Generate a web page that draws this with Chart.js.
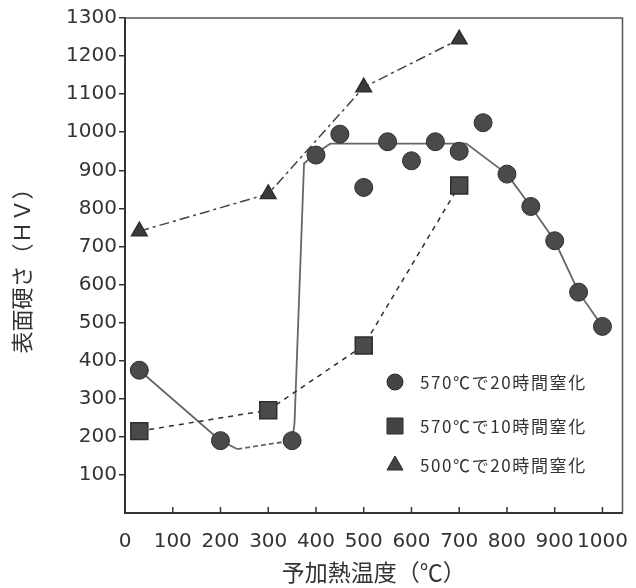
<!DOCTYPE html>
<html>
<head>
<meta charset="utf-8">
<script src="https://cdn.jsdelivr.net/npm/chart.js@4.4.1/dist/chart.umd.min.js"></script>
<style>
  html, body { margin: 0; padding: 0; background: #fff; }
  #wrap { width: 636px; height: 588px; }
</style>
</head>
<body>
<div id="wrap"><canvas id="chart"></canvas></div>
<script>
// tick values
var xTicks = [0, 100, 200, 300, 400, 500, 600, 700, 800, 900, 1000];
var yTicks = [100, 200, 300, 400, 500, 600, 700, 800, 900, 1000, 1100, 1200, 1300];

// 570℃ 20h nitriding (circles)
var circleTemps    = [30, 200, 350, 400, 450, 500, 550, 600, 650, 700, 750, 800, 850, 900, 950, 1000];
var circleHardness = [375, 190, 190, 940, 995, 855, 975, 925, 975, 950, 1025, 890, 805, 715, 580, 490];

// 570℃ 10h nitriding (squares)
var squareTemps    = [30, 300, 500, 700];
var squareHardness = [215, 270, 440, 860];

// 500℃ 20h nitriding (triangles)
var triangleTemps    = [30, 300, 500, 700];
var triangleHardness = [740, 838, 1118, 1244];

// hand drawn trend line through the circle data
var trendTemps    = [30, 200, 235, 350, 355, 375, 400, 430, 715, 800, 850, 900, 950, 1000];
var trendHardness = [375, 190, 168, 190, 235, 918, 945, 970, 970, 890, 805, 715, 580, 490];

var seriesLabels = ['570℃で20時間窒化', '570℃で10時間窒化', '500℃で20時間窒化'];

function pts(xs, ys) {
    return xs.map(function(x, i) { return {x: x, y: ys[i]}; });
}

var tickFont = {family: '"DejaVu Sans", sans-serif', size: 20};
var cjk = '"Noto Sans CJK JP", sans-serif';

// box frame + inward x ticks + in-plot legend
var framePlugin = {
    id: 'frame',
    afterDraw: function(chart) {
        var ctx = chart.ctx, a = chart.chartArea;
        var xs = chart.scales.x;
        ctx.save();
        ctx.strokeStyle = '#555';
        ctx.lineWidth = 1.5;
        ctx.beginPath();
        ctx.moveTo(a.left, a.top);
        ctx.lineTo(a.right, a.top);
        ctx.lineTo(a.right, a.bottom);
        ctx.stroke();

        ctx.strokeStyle = '#333';
        ctx.lineWidth = 1.5;
        xTicks.forEach(function(t) {
            if (t === 0) return;
            var px = xs.getPixelForValue(t);
            ctx.beginPath();
            ctx.moveTo(px, a.bottom);
            ctx.lineTo(px, a.bottom - 6);
            ctx.stroke();
        });

        // legend
        var lx = 395, ly = [382, 426, 465];
        ctx.fillStyle = '#444';
        ctx.strokeStyle = '#2a2a2a';
        ctx.lineWidth = 1;
        ctx.beginPath();
        ctx.arc(lx, ly[0], 8, 0, Math.PI * 2);
        ctx.fill(); ctx.stroke();
        ctx.beginPath();
        ctx.rect(lx - 8, ly[1] - 8, 16, 16);
        ctx.fill(); ctx.stroke();
        ctx.beginPath();
        ctx.moveTo(lx, ly[2] - 9);
        ctx.lineTo(lx + 8, ly[2] + 5);
        ctx.lineTo(lx - 8, ly[2] + 5);
        ctx.closePath();
        ctx.fill(); ctx.stroke();

        ctx.fillStyle = '#333';
        ctx.font = '17px ' + cjk;
        ctx.textBaseline = 'middle';
        ctx.textAlign = 'left';
        if ('letterSpacing' in ctx) ctx.letterSpacing = '1.6px';
        seriesLabels.forEach(function(s, i) {
            ctx.fillText(s, 420, ly[i] + 1);
        });
        ctx.restore();
    }
};

var ctx = document.getElementById('chart');
var chart = new Chart(ctx, {
    type: 'scatter',
    data: {
        datasets: [
            {
                label: seriesLabels[0],
                data: pts(circleTemps, circleHardness),
                pointStyle: 'circle',
                pointRadius: 9,
                backgroundColor: '#4a4a4a',
                borderColor: '#2e2e2e',
                borderWidth: 1,
                showLine: false
            },
            {
                label: seriesLabels[1],
                data: pts(squareTemps, squareHardness),
                pointStyle: 'rect',
                pointRadius: 12,
                backgroundColor: '#4a4a4a',
                borderColor: '#2e2e2e',
                pointBorderColor: '#2e2e2e',
                pointBackgroundColor: '#4a4a4a',
                borderWidth: 1.5,
                showLine: true,
                borderDash: [5, 5]
            },
            {
                label: seriesLabels[2],
                data: pts(triangleTemps, triangleHardness),
                pointStyle: 'triangle',
                pointRadius: 9,
                backgroundColor: '#3a3a3a',
                borderColor: '#444',
                pointBorderColor: '#2e2e2e',
                pointBackgroundColor: '#3a3a3a',
                borderWidth: 1.5,
                showLine: true,
                borderDash: [10, 4, 3, 4]
            },
            {
                label: 'trend',
                data: pts(trendTemps, trendHardness),
                pointRadius: 0,
                borderColor: '#666',
                borderWidth: 1.8,
                showLine: true,
                segment: {
                    borderDash: function(c) { return c.p0DataIndex === 2 ? [5, 3] : undefined; }
                }
            }
        ]
    },
    options: {
        responsive: true,
        maintainAspectRatio: false,
        animation: false,
        layout: {padding: {top: 18, right: 11, left: 0, bottom: 0}},
        plugins: {
            legend: {display: false},
            tooltip: {enabled: false}
        },
        scales: {
            x: {
                type: 'linear',
                min: 0,
                max: 1042,
                afterBuildTicks: function(scale) {
                    scale.ticks = xTicks.map(function(v) { return {value: v}; });
                },
                afterFit: function(scale) {
                    scale.height = 75;
                    scale.paddingRight = 0;
                    scale.paddingLeft = 0;
                },
                grid: {display: false},
                border: {display: true, color: '#333', width: 2},
                ticks: {
                    autoSkip: false,
                    maxRotation: 0,
                    padding: 9,
                    color: '#333',
                    font: tickFont,
                    callback: function(v) { return String(v); }
                },
                title: {
                    display: true,
                    text: '予加熱温度（℃）',
                    color: '#333',
                    font: {family: cjk, size: 23, lineHeight: 1.2},
                    padding: {top: 0, bottom: 2}
                }
            },
            y: {
                type: 'linear',
                min: 0,
                max: 1300,
                afterBuildTicks: function(scale) {
                    scale.ticks = yTicks.map(function(v) { return {value: v}; });
                },
                afterFit: function(scale) { scale.width = 125; },
                grid: {drawOnChartArea: false, drawTicks: true, tickLength: 6, color: '#333', lineWidth: 1.5},
                border: {display: true, color: '#333', width: 2},
                ticks: {
                    padding: 2,
                    color: '#333',
                    font: tickFont,
                    callback: function(v) { return String(v); }
                },
                title: {
                    display: true,
                    text: '表面硬さ（ＨＶ）',
                    color: '#333',
                    font: {family: cjk, size: 22, lineHeight: 1.2},
                    padding: {top: 8, bottom: 0}
                }
            }
        }
    },
    plugins: [framePlugin]
});
</script>
</body>
</html>
